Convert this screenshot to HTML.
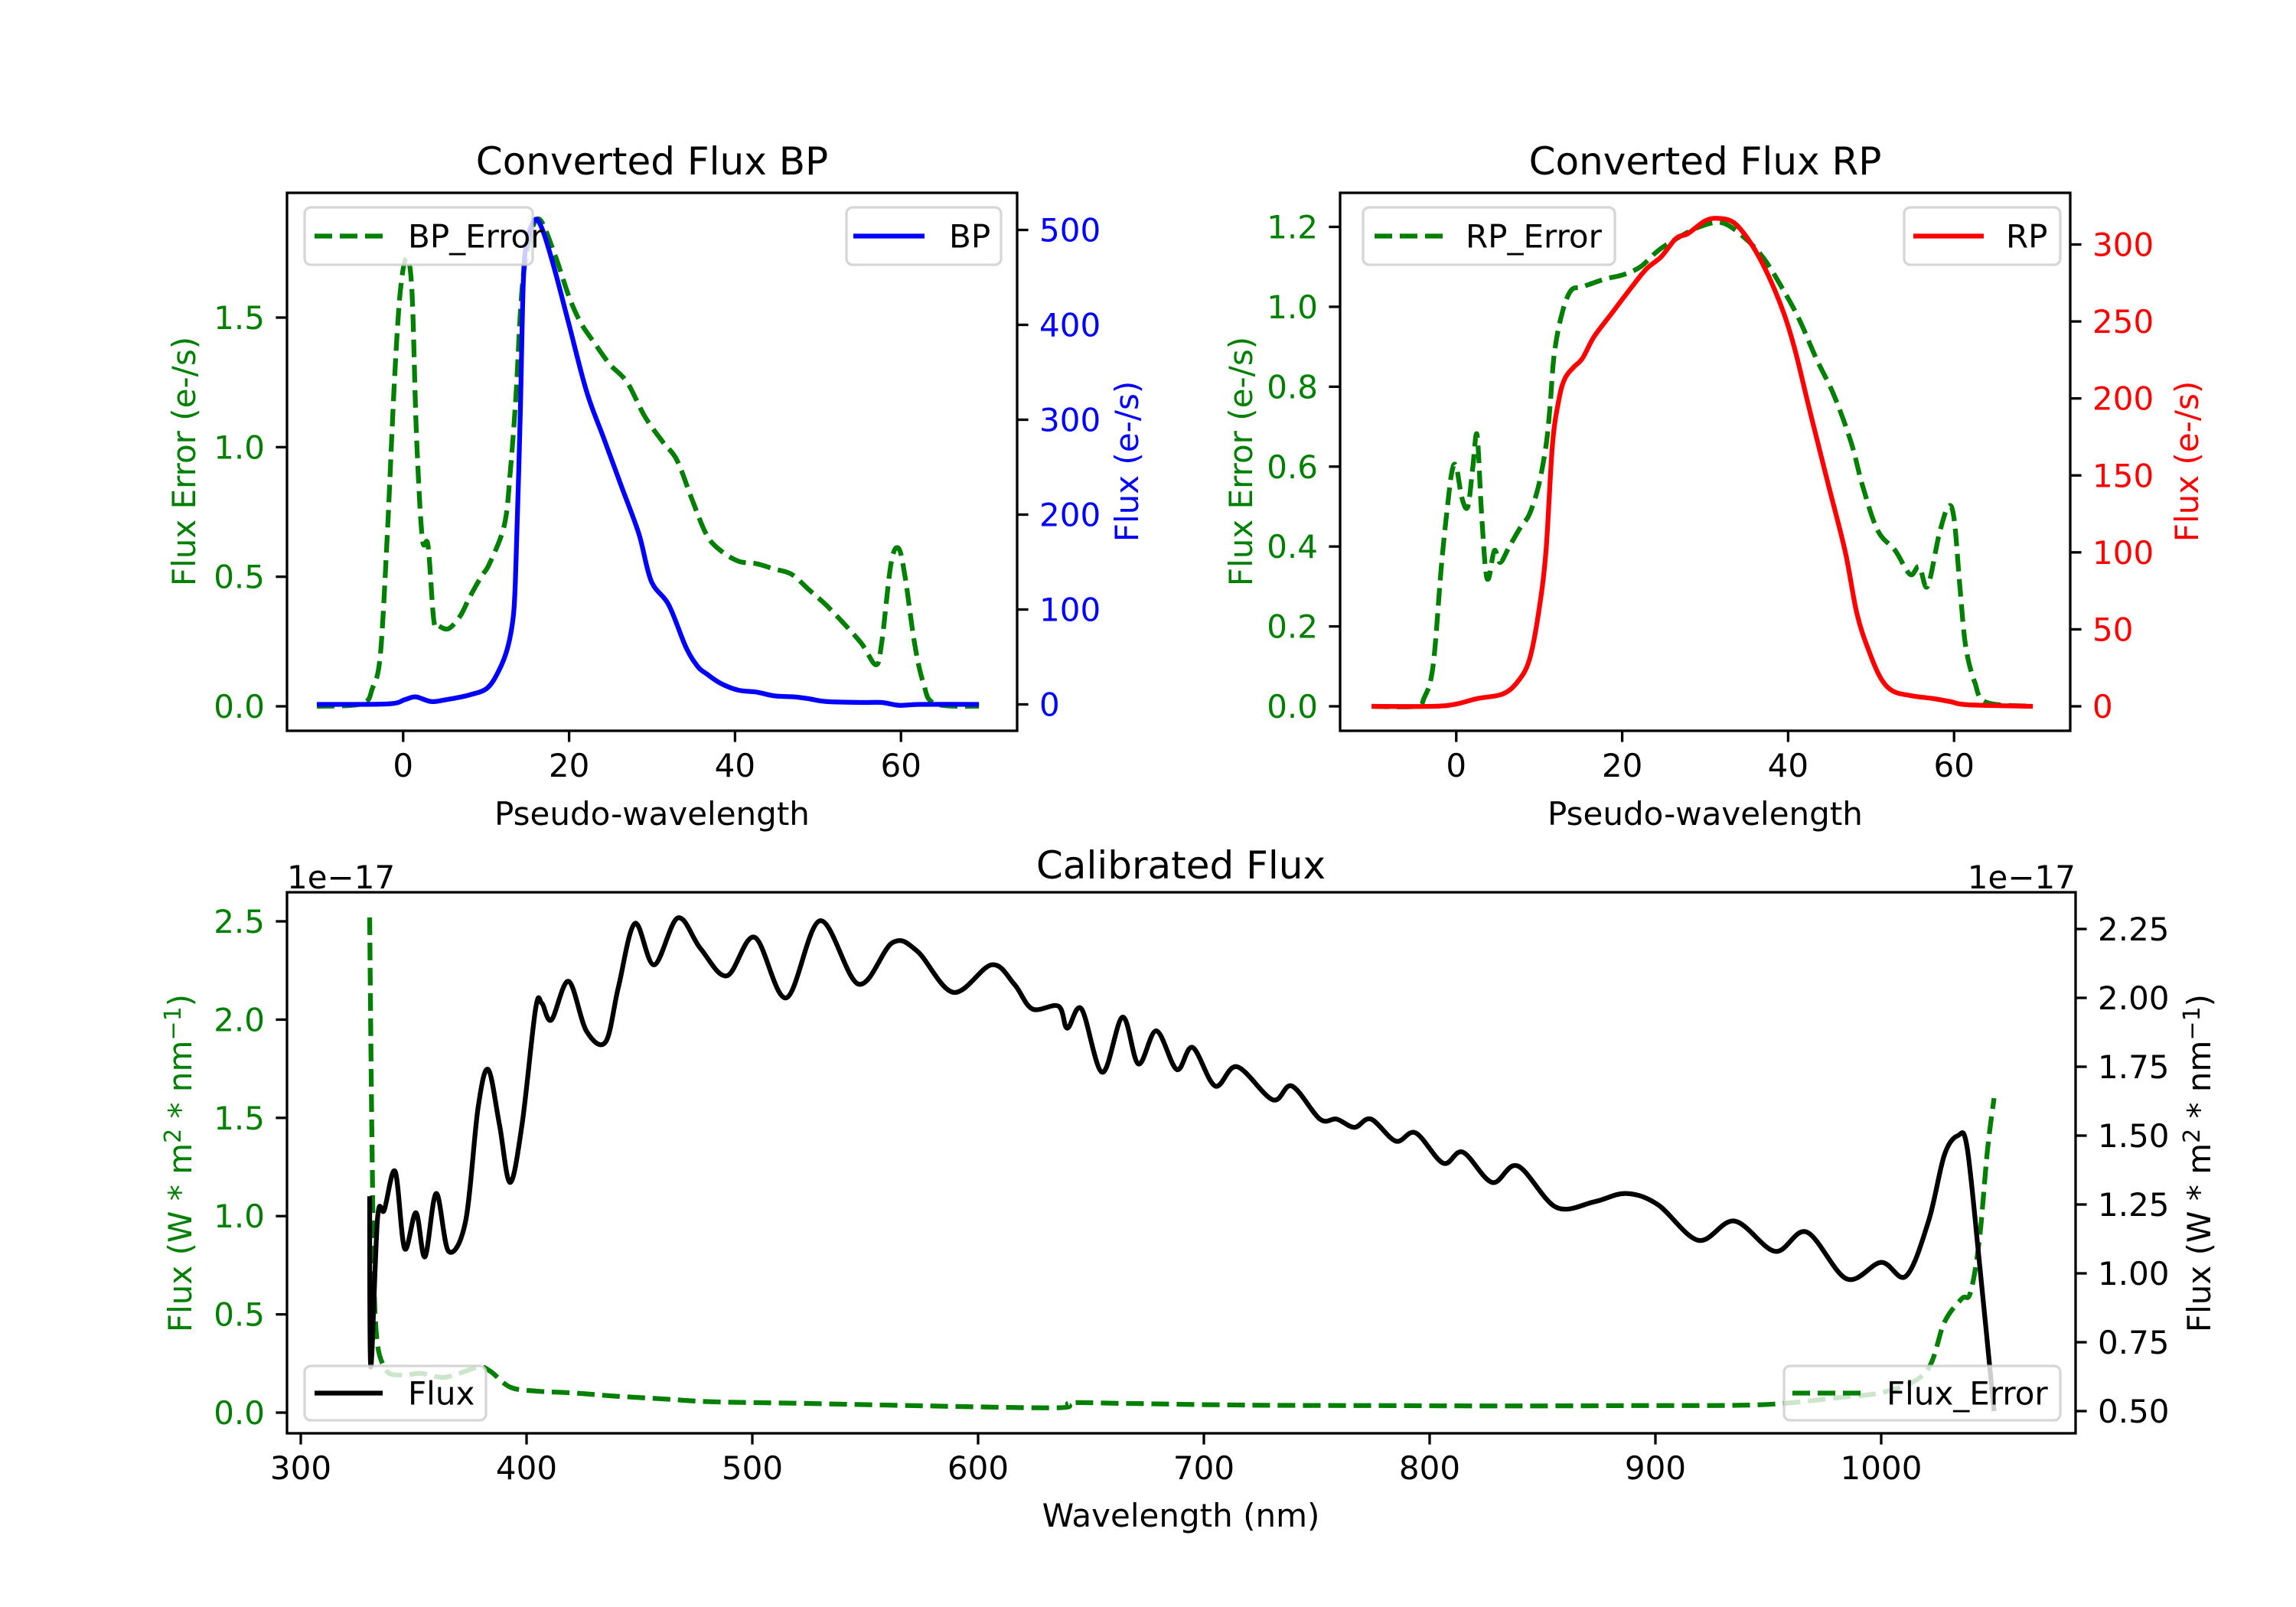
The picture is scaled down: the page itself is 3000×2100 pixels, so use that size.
<!DOCTYPE html>
<html><head><meta charset="utf-8">
<style>
html,body{margin:0;padding:0;background:#fff;}
svg{display:block;font-family:"DejaVu Sans","Liberation Sans",sans-serif;}
</style></head>
<body>
<svg id="fig" width="3000" height="2100" viewBox="0 0 3000 2100" xmlns="http://www.w3.org/2000/svg">
<rect width="3000" height="2100" fill="#fff"/>
<defs>
<clipPath id="c1"><rect x="375" y="252" width="954" height="703"/></clipPath>
<clipPath id="c2"><rect x="1751" y="252" width="954" height="703"/></clipPath>
<clipPath id="c3"><rect x="375" y="1166" width="2337" height="707"/></clipPath>
</defs>
<g id="root"></g>
</svg>
<script>
// ---- BP panel data ----
const bpErrX = [-10.4,-5,-3.7,-2.75,-1.9,-1.06,-0.35,0.42,1.06,1.6,2.3,3.0,3.7,4.3,5.5,6.9,8,9.4,10.4,12.2,12.9,13.6,14.3,15.2,16.4,18.2,20,21.4,23.1,24.9,27,29.1,31.3,33,34.8,36.6,38.3,40.4,42.6,44.7,46.8,48.9,51,53.1,55.3,57,57.7,58.8,59.7,60.5,61.6,62.7,64.1,69.4];
const bpErrY = [0,0.01,0.07,0.2,0.67,1.25,1.6,1.73,1.6,1.05,0.65,0.62,0.33,0.31,0.3,0.35,0.42,0.5,0.55,0.7,0.9,1.2,1.6,1.8,1.88,1.75,1.58,1.48,1.4,1.32,1.25,1.12,1.02,0.95,0.8,0.66,0.6,0.56,0.55,0.53,0.51,0.45,0.39,0.32,0.24,0.16,0.25,0.55,0.61,0.5,0.25,0.09,0.01,0];
const bpX = [-10.4,-1.9,0.2,1.5,3.4,5.2,8,10.1,11.5,12.6,13.3,13.6,14.1,14.5,15,15.9,16.8,18.2,20,22.1,24.2,26.3,28.4,29.9,32,34.1,35.5,36.6,38.3,40.4,42.6,44.7,47.1,48.9,51,55.3,57.7,59.8,62.3,69.4];
const bpY = [0,0.5,5,8,3,5,10,17,35,60,95,150,300,450,490,511,500,460,400,330,280,230,180,130,105,60,40,32,22,15,13,9,8,6,3,2,2,-1,0,0];
// ---- RP panel data ----
const rpErrX = [-10.2,-4.9,-3.9,-2.8,-1.8,-1.06,-0.5,0,0.7,1.4,2,2.5,3,3.5,3.9,4.6,5.3,6.4,7.8,8.8,9.9,10.8,11.3,11.8,12.7,13.8,15.2,18,20.1,22.2,24.3,26.5,29.3,32.1,34.9,37.1,39.2,41.3,43.4,45.5,47.6,49,50.8,52.9,54.7,55.8,56.8,58.2,59.3,60,60.7,61.4,62.5,63.9,69.5];
const rpErrY = [0,0,0.02,0.1,0.35,0.5,0.59,0.6,0.52,0.5,0.6,0.68,0.5,0.35,0.32,0.39,0.36,0.4,0.45,0.48,0.55,0.65,0.75,0.88,0.98,1.04,1.05,1.07,1.08,1.1,1.14,1.17,1.2,1.21,1.17,1.12,1.05,0.97,0.87,0.78,0.66,0.55,0.44,0.39,0.33,0.35,0.3,0.43,0.5,0.47,0.3,0.15,0.06,0.01,0];
const rpX = [-10.2,-2.8,0,2.5,5.6,7.4,8.8,9.9,10.8,11.6,12.4,13.1,14.1,15.2,16.6,18.7,20.8,22.9,24.7,26.5,27.9,29.9,31.4,33.5,35.6,37.6,39.5,40.9,42.7,44.8,46.9,48.3,49.8,51.2,52.6,54.7,57.5,59.6,61.7,69.5];
const rpY = [0,0,1.5,5,8,16,30,60,100,170,200,213,220,226,240,255,270,284,292,304,307,315,317,314,300,280,255,230,190,145,100,60,35,18,10,7,5,3,1,0];
// ---- Calibrated flux data (units 1e-17) ----
const calX = [330.5,331,334,337,341.8,346,351,355,360,365.5,373,378.5,383,388,392.7,398,404,406.8,411,418.6,426.5,435,440.7,448,456.5,467,477,488.7,501,515,530,547,562,573,589,606,616,624,635.6,639.5,645.8,655,664,671,679,688,695,705,714.7,730.5,739,751.4,758.8,766.7,774,785,793.8,806,814.7,827.7,839,856,873,887,901,919,935,953,967,984.7,1000,1011,1021,1028,1034,1038,1043.5,1050];
const calY = [1.28,0.66,1.2,1.23,1.37,1.09,1.22,1.06,1.29,1.08,1.19,1.6,1.74,1.54,1.33,1.54,1.96,1.98,1.92,2.06,1.88,1.84,2.04,2.27,2.12,2.29,2.18,2.08,2.22,2.0,2.28,2.05,2.2,2.17,2.02,2.12,2.05,1.96,1.97,1.89,1.96,1.73,1.93,1.76,1.88,1.74,1.82,1.68,1.75,1.63,1.68,1.56,1.56,1.53,1.56,1.48,1.51,1.40,1.44,1.33,1.39,1.24,1.26,1.29,1.25,1.12,1.19,1.08,1.15,0.98,1.04,0.99,1.19,1.43,1.50,1.46,1.04,0.5];
const calErrX = [330.5,331.6,333,337,344.6,353,364,378.5,384,392.7,404,421,438,460,483,522.6,579,635.6,641,664,720,777,833,890,946,980,1003,1020,1028,1035.7,1039.5,1043.5,1047,1050];
const calErrY = [2.52,1.33,0.48,0.23,0.19,0.2,0.18,0.23,0.21,0.13,0.11,0.10,0.085,0.07,0.055,0.047,0.034,0.025,0.05,0.047,0.038,0.036,0.034,0.036,0.04,0.075,0.11,0.21,0.46,0.58,0.61,0.88,1.33,1.6];
const bpTicksX = [0,20,40,60];
const bpTicksL = [0,0.5,1.0,1.5];
const bpTicksR = [0,100,200,300,400,500];
const rpTicksL = [0,0.2,0.4,0.6,0.8,1.0,1.2];
const rpTicksR = [0,50,100,150,200,250,300];
const calTicksX = [300,400,500,600,700,800,900,1000];
const calTicksL = [0,0.5,1.0,1.5,2.0,2.5];
const calTicksR = [0.5,0.75,1.0,1.25,1.5,1.75,2.0,2.25];

const NS = "http://www.w3.org/2000/svg";
const root = document.getElementById('root');
function mk(tag, attrs, parent){
  const e = document.createElementNS(NS, tag);
  for (const k in attrs) e.setAttribute(k, attrs[k]);
  (parent||root).appendChild(e);
  return e;
}
function lin(d0,d1,p0,p1){ return v => p0 + (v-d0)*(p1-p0)/(d1-d0); }
function txt(s, x, y, opts, name){
  const t = mk('text', Object.assign({x:x,y:y,'font-size':42,fill:'#000'}, opts||{}));
  t.textContent = s;
  
  
  return t;
}
function line(xs, ys, fx, fy, color, dashed, clip, name){
  const P = xs.map((x,i)=>[fx(x), fy(ys[i])]);
  let d = 'M' + P[0][0].toFixed(1) + ' ' + P[0][1].toFixed(1);
  for (let i=0;i<P.length-1;i++){
    const p0 = P[Math.max(0,i-1)], p1 = P[i], p2 = P[i+1], p3 = P[Math.min(P.length-1,i+2)];
    const c1x = p1[0] + (p2[0]-p0[0])/6, c1y = p1[1] + (p2[1]-p0[1])/6;
    const c2x = p2[0] - (p3[0]-p1[0])/6, c2y = p2[1] - (p3[1]-p1[1])/6;
    d += 'C' + c1x.toFixed(1)+' '+c1y.toFixed(1)+' '+c2x.toFixed(1)+' '+c2y.toFixed(1)+' '+p2[0].toFixed(1)+' '+p2[1].toFixed(1);
  }
  const p = mk('path', {d:d, fill:'none', stroke:color, 'stroke-width':6.25, 'stroke-linejoin':'round', 'clip-path':'url(#'+clip+')'});
  if (dashed) p.setAttribute('stroke-dasharray','23 10');
  
  
  return p;
}
function fmt(v, dec){ return v.toFixed(dec); }
function axesFrame(x0,y0,x1,y1,name){
  const r = mk('rect',{x:x0,y:y0,width:x1-x0,height:y1-y0,fill:'none',stroke:'#000','stroke-width':3.3});
  
  
}
function xTicks(ticks, fx, yb, dec, name){
  ticks.forEach(v=>{
    const x = fx(v);
    const l = mk('line',{x1:x,y1:yb,x2:x,y2:yb+14.6,stroke:'#000','stroke-width':3.3});
    
    
    txt(fmt(v,dec), x, yb+60, {'text-anchor':'middle'}, name+'-tick-label');
  });
}
function yTicks(ticks, fy, xb, side, color, dec, name){
  ticks.forEach(v=>{
    const y = fy(v);
    const x2 = side<0 ? xb-14.6 : xb+14.6;
    const l = mk('line',{x1:xb,y1:y,x2:x2,y2:y,stroke:'#000','stroke-width':3.3});
    
    
    txt(fmt(v,dec), side<0 ? xb-29 : xb+29, y+15, {'text-anchor': side<0?'end':'start', fill:color}, name+'-tick-label');
  });
}
function vlabel(s, x, y, color, name){
  return txt(s, 0, 0, {'text-anchor':'middle', fill:color, transform:'translate('+x+','+y+') rotate(-90)'}, name);
}
function legend(x0,y0,x1,y1,lx0,lx1,tx,label,color,dashed,name){
  const g = mk('g',{});
  
  
  mk('rect',{x:x0,y:y0,width:x1-x0,height:y1-y0,rx:8,fill:'#fff','fill-opacity':0.8,stroke:'#ccc','stroke-opacity':0.8,'stroke-width':3.3}, g);
  const cy = (y0+y1)/2;
  const l = mk('line',{x1:lx0,y1:cy,x2:lx1,y2:cy,stroke:color,'stroke-width':6.25}, g);
  if (dashed) l.setAttribute('stroke-dasharray','23 10');
  const t = mk('text',{x:tx,y:cy+15,'font-size':42,fill:'#000'}, g);
  t.textContent = label;
}

// ===== BP panel =====
{
  const fx = lin(-14,74,375,1329);
  const fyL = lin(0,1.5,923,415);
  const fyR = lin(0,500,920.5,300.5);
  txt('Converted Flux BP', 852, 228, {'text-anchor':'middle','font-size':50}, 'bp-title');
  line(bpErrX, bpErrY, fx, fyL, '#008000', true, 'c1', 'bp-error-line');
  line(bpX, bpY, fx, fyR, '#0000ff', false, 'c1', 'bp-flux-line');
  axesFrame(375,252,1329,955,'bp-axes');
  xTicks(bpTicksX, fx, 955, 0, 'bp-x');
  yTicks(bpTicksL, fyL, 375, -1, '#008000', 1, 'bp-y-left');
  yTicks(bpTicksR, fyR, 1329, 1, '#0000ff', 0, 'bp-y-right');
  txt('Pseudo-wavelength', 852, 1078, {'text-anchor':'middle'}, 'bp-x-axis-title');
  vlabel('Flux Error (e-/s)', 255, 603, '#008000', 'bp-y-left-title');
  vlabel('Flux (e-/s)', 1487, 603, '#0000ff', 'bp-y-right-title');
  legend(398,271,696,346,411,500,533,'BP_Error','#008000',true,'bp-error-legend');
  legend(1106,271,1308,346,1115,1208,1240,'BP','#0000ff',false,'bp-legend');
}
// ===== RP panel =====
{
  const fx = lin(-14,74,1751,2705);
  const fyL = lin(0,1.2,923,296.5);
  const fyR = lin(0,300,923,319.5);
  txt('Converted Flux RP', 2228, 228, {'text-anchor':'middle','font-size':50}, 'rp-title');
  line(rpErrX, rpErrY, fx, fyL, '#008000', true, 'c2', 'rp-error-line');
  line(rpX, rpY, fx, fyR, '#ff0000', false, 'c2', 'rp-flux-line');
  axesFrame(1751,252,2705,955,'rp-axes');
  xTicks(bpTicksX, fx, 955, 0, 'rp-x');
  yTicks(rpTicksL, fyL, 1751, -1, '#008000', 1, 'rp-y-left');
  yTicks(rpTicksR, fyR, 2705, 1, '#ff0000', 0, 'rp-y-right');
  txt('Pseudo-wavelength', 2228, 1078, {'text-anchor':'middle'}, 'rp-x-axis-title');
  vlabel('Flux Error (e-/s)', 1636, 603, '#008000', 'rp-y-left-title');
  vlabel('Flux (e-/s)', 2872, 603, '#ff0000', 'rp-y-right-title');
  legend(1781,271,2110,346,1796,1885,1915,'RP_Error','#008000',true,'rp-error-legend');
  legend(2488,271,2692,346,2500,2592,2621,'RP','#ff0000',false,'rp-legend');
}
// ===== Calibrated panel =====
{
  const fx = lin(300,1000,393,2458);
  const fyL = lin(0,2.5,1846,1204);
  const fyR = lin(0.5,2.25,1844,1214);
  txt('Calibrated Flux', 1543, 1148, {'text-anchor':'middle','font-size':50}, 'cal-title');
  txt('1e\u221217', 375, 1161, {}, 'cal-left-offset');
  txt('1e\u221217', 2712, 1161, {'text-anchor':'end'}, 'cal-right-offset');
  line(calErrX, calErrY, fx, fyL, '#008000', true, 'c3', 'cal-error-line');
  line(calX, calY, fx, fyR, '#000000', false, 'c3', 'cal-flux-line');
  axesFrame(375,1166,2712,1873,'cal-axes');
  xTicks(calTicksX, fx, 1873, 0, 'cal-x');
  yTicks(calTicksL, fyL, 375, -1, '#008000', 1, 'cal-y-left');
  yTicks(calTicksR, fyR, 2712, 1, '#000', 2, 'cal-y-right');
  txt('Wavelength (nm)', 1543, 1995, {'text-anchor':'middle'}, 'cal-x-axis-title');
  const l1 = vlabel('', 250, 1520, '#008000', 'cal-y-left-title');
  l1.innerHTML = 'Flux (W * m<tspan dy="-14" font-size="30">2</tspan><tspan dy="14"> * nm</tspan><tspan dy="-14" font-size="30">\u22121</tspan><tspan dy="14">)</tspan>';
  const l2 = vlabel('', 2888, 1520, '#000', 'cal-y-right-title');
  l2.innerHTML = 'Flux (W * m<tspan dy="-14" font-size="30">2</tspan><tspan dy="14"> * nm</tspan><tspan dy="-14" font-size="30">\u22121</tspan><tspan dy="14">)</tspan>';
  legend(398,1785,635,1856,411,500,533,'Flux','#000',false,'cal-flux-legend');
  legend(2331,1785,2692,1856,2342,2433,2465,'Flux_Error','#008000',true,'cal-error-legend');
}
</script>
</body></html>
